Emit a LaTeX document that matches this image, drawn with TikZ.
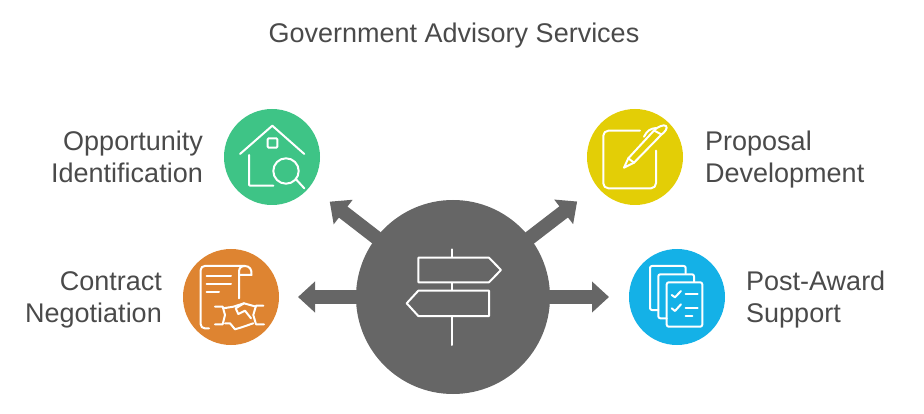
\documentclass[tikz,border=0pt]{standalone}
\usepackage{fontspec}
\setmainfont{Liberation Sans}
\usetikzlibrary{arrows.meta}
\definecolor{hubgray}{HTML}{666666}
\definecolor{textgray}{HTML}{4A4A4A}
\definecolor{oppgreen}{HTML}{3EC486}
\definecolor{propyellow}{HTML}{E3CE06}
\definecolor{contorange}{HTML}{DE8431}
\definecolor{postblue}{HTML}{14B1E7}
\tikzset{
    disc/.style={circle, minimum size=96pt, inner sep=0pt, outer sep=0pt},
    hubdisc/.style={circle, fill=hubgray, minimum size=194pt, inner sep=0pt, outer sep=0pt},
    label/.style={text=textgray, font=\fontsize{27}{32}\selectfont, inner sep=0pt},
    bigarrow/.style={draw=hubgray, line width=14pt, shorten <=-3pt, -{Triangle[width=30pt,length=17pt]}},
    iconline/.style={draw=white, line width=2pt, line cap=round, line join=round}
}

\begin{document}
\begin{tikzpicture}[x=1pt, y=-1pt]
    \useasboundingbox (0,0) rectangle (924,414);

    % Define nodes
    \node[label, anchor=base] (title) at (454,42.5) {Government Advisory Services};

    \node[hubdisc] (hub) at (453,297) {};

    \node[disc, fill=oppgreen] (opp) at (272,157) {};
    \node[disc, fill=propyellow] (prop) at (635,157) {};
    \node[disc, fill=contorange] (cont) at (231,297) {};
    \node[disc, fill=postblue] (post) at (677,297) {};

    \node[label, align=right, anchor=east] (opptext) at (203,160.4) {\strut Opportunity\\\strut Identification};
    \node[label, align=left, anchor=west] (proptext) at (705,160.4) {\strut Proposal\\\strut Development};
    \node[label, align=right, anchor=east] (conttext) at (162,299.8) {\strut Contract\\\strut Negotiation};
    \node[label, align=left, anchor=west] (posttext) at (746,299.8) {\strut Post-Award\\\strut Support};

    % Draw edges
    \draw[bigarrow, shorten >=25pt] (hub) -- (opp);
    \draw[bigarrow, shorten >=25pt] (hub) -- (prop);
    \draw[bigarrow, shorten >=19pt] (hub) -- (cont);
    \draw[bigarrow, shorten >=20pt] (hub) -- (post);

    % Signpost
    \draw[iconline] (451.7,249.3) -- (451.7,257);
    \draw[iconline] (451.7,283) -- (451.7,290);
    \draw[iconline] (451.7,316.5) -- (451.7,345);
    \draw[iconline] (418.3,257.7) -- (489,257.7) -- (501,270) -- (489,282.3) -- (418.3,282.3) -- cycle;
    \draw[iconline] (489,290.7) -- (418.3,290.7) -- (406.7,303.3) -- (418.3,316) -- (489,316) -- cycle;

    % House
    \draw[iconline] (240,154) -- (272.3,125.7) -- (304.3,154);
    \draw[iconline, rounded corners=1pt] (267.7,138.3) rectangle (277.3,147.7);
    \draw[iconline, rounded corners=1pt] (249,155) -- (249,185.7) -- (273.3,185.7);
    \draw[iconline] (286,171) circle (12.7pt);
    \draw[iconline] (296,179.3) -- (304.3,188.3);

    % Pad and pen
    \draw[iconline, rounded corners=5pt] (640,130.7) -- (603.3,130.7) -- (603.3,188.3) -- (656,188.3) -- (656,150.7);
    \draw[iconline] (624,167.7) -- (628.3,158.3) -- (654,130.5) .. controls (657,127) and (664,124) .. (666,126) .. controls (668,128) and (665,132) .. (661.5,134.5) -- (634,162.7) -- cycle;
    \draw[iconline] (628.3,158.3) -- (634,162.7);
    \draw[iconline] (654,130.5) -- (661.5,134.5);
    \draw[iconline] (644,136.7) .. controls (647,131) and (650,128.5) .. (656,128);

    % Contract and handshake
    \draw[iconline, rounded corners=4pt] (209,328.3) -- (200.7,328.3) -- (200.7,266) -- (245,266);
    \draw[iconline] (245,266) .. controls (250,266) and (252,270) .. (251.5,275) -- (239,275);
    \draw[iconline] (239,298.3) -- (239,272) .. controls (239,268) and (241,266) .. (245,266);
    \draw[iconline] (206.7,275.7) -- (231,275.7);
    \draw[iconline] (206.7,284) -- (231,284);
    \draw[iconline] (206.7,292.3) -- (219,292.3);
    \draw[iconline] (215,306.7) -- (222.7,306.7) -- (225,315) -- (222.7,324.3) -- (215,324.3);
    \draw[iconline] (263.3,305.7) -- (256,305.7) -- (253.3,315) -- (256,324.3) -- (264,324.3);
    \draw[iconline] (223.3,308.3) -- (233.3,306.7) -- (244,303.3) -- (256,306.7);
    \draw[iconline] (225,323.3) -- (230,323.3) -- (235,329.3) -- (241.7,327.3) -- (253.3,323.3);
    \draw[iconline] (244,303.3) -- (235.7,308.3) -- (238.3,314) -- (245,310.7) -- (251,318.3);

    % Stacked pages
    \draw[iconline, rounded corners=2pt] (685.7,273.3) -- (685.7,266) -- (650,266) -- (650,310) -- (658.3,310);
    \draw[iconline, rounded corners=2pt] (694,281.7) -- (694,274.3) -- (658.3,274.3) -- (658.3,318.3) -- (666.7,318.3);
    \draw[iconline, rounded corners=2pt] (666.7,282.3) rectangle (702.3,326.7);
    \draw[iconline] (671.7,295) -- (675,297.3) -- (681,291);
    \draw[iconline] (671.7,308.3) -- (675,311) -- (681,304.3);
    \draw[iconline] (685.7,293.7) -- (697.7,293.7);
    \draw[iconline] (685.7,307.7) -- (697.7,307.7);
    \draw[iconline] (685.7,316) -- (692.3,316);
\end{tikzpicture}
\end{document}
